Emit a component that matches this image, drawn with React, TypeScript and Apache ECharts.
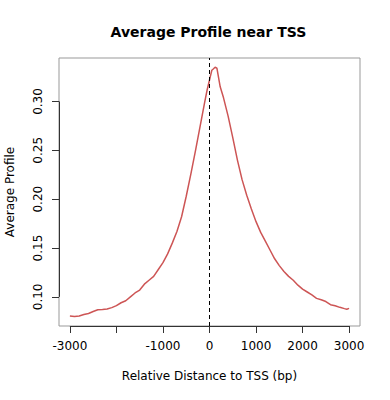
import React, { useEffect, useRef } from "react";
import * as echarts from "echarts";

const distances = [
  -3000, -2900, -2800, -2700, -2600, -2500, -2400, -2300, -2200, -2100,
  -2000, -1900, -1800, -1700, -1600, -1500, -1400, -1300, -1200, -1100,
  -1000, -900, -800, -700, -600, -500, -400, -300, -200, -100, -50, 0,
  15, 50, 75, 120, 160, 230, 300, 400, 500, 600, 700, 800, 900, 1000,
  1100, 1200, 1300, 1400, 1500, 1600, 1700, 1800, 1900, 2000, 2100, 2200,
  2300, 2400, 2500, 2600, 2700, 2800, 2900, 2950, 3000,
];
const profile = [
  0.0805, 0.0800, 0.0805, 0.0820, 0.0830, 0.0850, 0.0868, 0.0872, 0.0877, 0.0890,
  0.0910, 0.0940, 0.0960, 0.1000, 0.1040, 0.1070, 0.1130, 0.1170, 0.1210, 0.1280,
  0.1350, 0.1440, 0.1550, 0.1670, 0.1820, 0.2030, 0.2260, 0.2500, 0.2750, 0.3000, 0.3120, 0.3220,
  0.3250, 0.3320, 0.3330, 0.3350, 0.3340, 0.3150, 0.3040, 0.2850, 0.2630, 0.2400, 0.2200, 0.2040, 0.1900, 0.1770,
  0.1660, 0.1570, 0.1480, 0.1390, 0.1320, 0.1260, 0.1210, 0.1170, 0.1120, 0.1080, 0.1050, 0.1020,
  0.0985, 0.0970, 0.0952, 0.0920, 0.0910, 0.0893, 0.0880, 0.0874, 0.0882,
];
const xTicks = [-3000, -2000, -1000, 0, 1000, 2000, 3000];
const xLabels = [-3000, -1000, 0, 1000, 2000, 3000];
const yTicks = [0.1, 0.15, 0.2, 0.25, 0.3];

const X_MIN = -3234;
const X_MAX = 3234;
const Y_MIN = 0.0702;
const Y_MAX = 0.3445;

const FONT = "DejaVu Sans";

export default function App() {
  const ref = useRef<HTMLDivElement>(null);
  useEffect(() => {
    if (!ref.current) return;
    const chart = echarts.init(ref.current, null, { renderer: "svg" });
    const data = distances.map((d, i) => [d, profile[i]]);
    chart.setOption({
      animation: false,
      backgroundColor: "#ffffff",
      title: {
        text: "Average Profile near TSS",
        left: 203.5,
        textAlign: "center",
        top: 20,
        textStyle: { fontFamily: FONT, fontSize: 14, fontWeight: "bold", color: "#000" },
      },
      grid: {
        left: 59,
        right: 30,
        top: 58,
        bottom: 74,
        containLabel: false,
        outerBoundsMode: "none",
        show: true,
        borderColor: "#999999",
        borderWidth: 1,
        backgroundColor: "transparent",
      },
      xAxis: {
        type: "value",
        min: X_MIN,
        max: X_MAX,
        name: "Relative Distance to TSS (bp)",
        nameLocation: "middle",
        nameGap: 44,
        nameTextStyle: { fontFamily: FONT, fontSize: 12, color: "#000" },
        axisLine: { show: false, onZero: false },
        splitLine: { show: false },
        axisTick: {
          show: true,
          inside: false,
          length: 7,
          customValues: xTicks,
          lineStyle: { color: "#333", width: 1 },
        },
        axisLabel: {
          customValues: xLabels,
          margin: 14,
          fontFamily: FONT,
          fontSize: 12,
          color: "#000",
          formatter: (v: number) => String(v),
        },
      },
      yAxis: {
        type: "value",
        min: Y_MIN,
        max: Y_MAX,
        name: "Average Profile",
        nameLocation: "middle",
        nameGap: 43,
        nameTextStyle: { fontFamily: FONT, fontSize: 12, color: "#000" },
        axisLine: { show: false, onZero: false },
        splitLine: { show: false },
        axisTick: {
          show: true,
          inside: false,
          length: 7,
          customValues: yTicks,
          lineStyle: { color: "#333", width: 1 },
        },
        axisLabel: {
          customValues: yTicks,
          rotate: 90,
          margin: 15,
          fontFamily: FONT,
          fontSize: 12,
          color: "#000",
          formatter: (v: number) => v.toFixed(2),
        },
      },
      series: [
        {
          type: "line",
          data,
          showSymbol: false,
          symbol: "none",
          smooth: false,
          lineStyle: { color: "#CD5555", width: 1.5 },
          markLine: {
            silent: true,
            symbol: "none",
            label: { show: false },
            data: [
              { xAxis: 0, lineStyle: { color: "#000", type: [4, 3], width: 1 } },
              [
                { coord: [xTicks[0], Y_MIN], lineStyle: { color: "#333", type: "solid", width: 1 } },
                { coord: [xTicks[xTicks.length - 1], Y_MIN] },
              ],
              [
                { coord: [X_MIN, yTicks[0]], lineStyle: { color: "#333", type: "solid", width: 1 } },
                { coord: [X_MIN, yTicks[yTicks.length - 1]] },
              ],
            ],
          },
        },
      ],
    });
    return () => chart.dispose();
  }, []);
  return (
    <div
      ref={ref}
      style={{ position: "absolute", left: 0, top: 0, width: 390, height: 400 }}
    />
  );
}
